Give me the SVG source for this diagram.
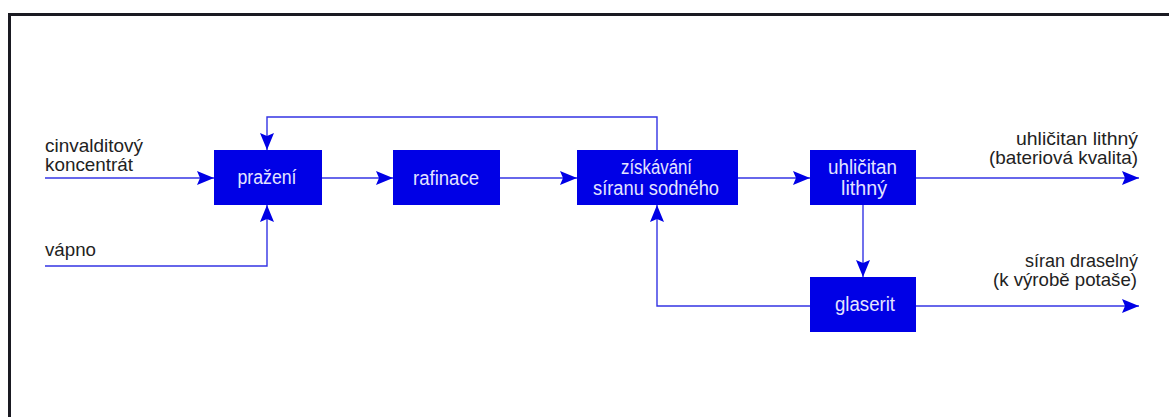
<svg xmlns="http://www.w3.org/2000/svg" width="1169" height="417" viewBox="0 0 1169 417">
<style>
.frame{fill:none;stroke:#1a1a22;stroke-width:3}
.box{fill:#0000e6}
.bt{font-family:"Liberation Sans",Arial,sans-serif;font-size:20px;fill:#e4e4ff;text-anchor:middle}
.lt{font-family:"Liberation Sans",Arial,sans-serif;font-size:18.5px;fill:#222}
.ln{fill:none;stroke:#3434e4;stroke-width:1.4}
</style>
<defs>
<marker id="ah" viewBox="0 0 17 14" refX="17" refY="7" markerWidth="17" markerHeight="14" markerUnits="userSpaceOnUse" orient="auto">
<path d="M0,0 L17,7 L0,14 L3,7 Z" fill="#0000e6"/>
</marker>
</defs>
<rect width="1169" height="417" fill="#ffffff"/>
<path class="frame" d="M9.5,420 V14.5 H1175"/>
<g id="connectors">
<path class="ln" d="M45,178 H214" marker-end="url(#ah)"/>
<path class="ln" d="M45,266 H267 V205" marker-end="url(#ah)"/>
<path class="ln" d="M657,150 V117 H267 V150" marker-end="url(#ah)"/>
<path class="ln" d="M322,178 H393" marker-end="url(#ah)"/>
<path class="ln" d="M500,178 H577" marker-end="url(#ah)"/>
<path class="ln" d="M738,178 H810" marker-end="url(#ah)"/>
<path class="ln" d="M916,178 H1139" marker-end="url(#ah)"/>
<path class="ln" d="M863,205 V277" marker-end="url(#ah)"/>
<path class="ln" d="M916,306 H1139" marker-end="url(#ah)"/>
<path class="ln" d="M810,306 H657 V205" marker-end="url(#ah)"/>
</g>
<g id="labels">
<text class="lt"><tspan x="45" y="152" textLength="98" lengthAdjust="spacingAndGlyphs">cinvalditový</tspan><tspan x="45" y="171.2" textLength="88" lengthAdjust="spacingAndGlyphs">koncentrát</tspan></text>
<text class="lt" x="45" y="256" textLength="51" lengthAdjust="spacingAndGlyphs">vápno</text>
<text class="lt"><tspan x="1016" y="144.5" textLength="122" lengthAdjust="spacingAndGlyphs">uhličitan lithný</tspan><tspan x="989" y="163.7" textLength="149" lengthAdjust="spacingAndGlyphs">(bateriová kvalita)</tspan></text>
<text class="lt"><tspan x="1025" y="267" textLength="113" lengthAdjust="spacingAndGlyphs">síran draselný</tspan><tspan x="993" y="286.2" textLength="144" lengthAdjust="spacingAndGlyphs">(k výrobě potaše)</tspan></text>
</g>
<g id="prazeni"><rect class="box" x="214" y="150" width="108" height="55"/><text class="bt" x="267" y="184" textLength="59" lengthAdjust="spacingAndGlyphs">pražení</text></g>
<g id="rafinace"><rect class="box" x="393" y="150" width="107" height="55"/><text class="bt" x="446" y="185" textLength="66" lengthAdjust="spacingAndGlyphs">rafinace</text></g>
<g id="ziskavani"><rect class="box" x="577" y="150" width="161" height="55"/><text class="bt"><tspan x="656.5" y="174" textLength="71" lengthAdjust="spacingAndGlyphs">získávání</tspan><tspan x="656" y="194.5" textLength="126" lengthAdjust="spacingAndGlyphs">síranu sodného</tspan></text></g>
<g id="uhlicitan"><rect class="box" x="810" y="150" width="106" height="55"/><text class="bt"><tspan x="862.5" y="174" textLength="69" lengthAdjust="spacingAndGlyphs">uhličitan</tspan><tspan x="864" y="194.5" textLength="46" lengthAdjust="spacingAndGlyphs">lithný</tspan></text></g>
<g id="glaserit"><rect class="box" x="810" y="277" width="106" height="55"/><text class="bt" x="865" y="311" textLength="60" lengthAdjust="spacingAndGlyphs">glaserit</text></g>
</svg>
